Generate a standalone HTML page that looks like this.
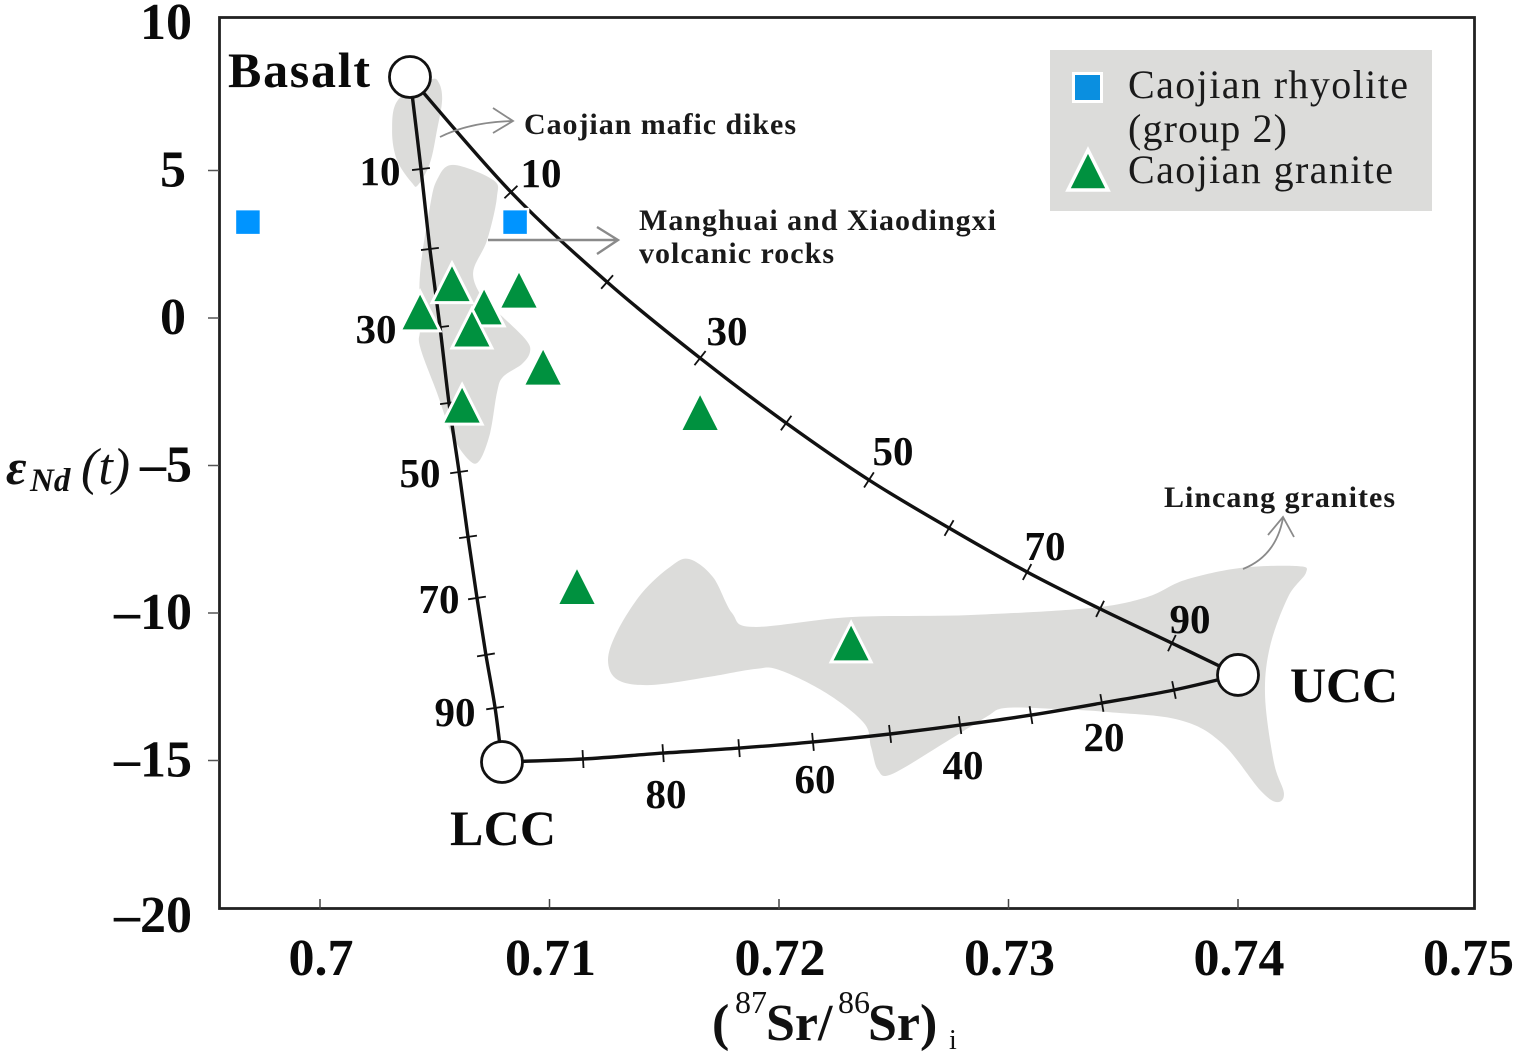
<!DOCTYPE html>
<html lang="en">
<head>
<meta charset="utf-8">
<title>Sr-Nd isotope mixing diagram</title>
<style>
html,body{margin:0;padding:0;background:#fff;}
svg{display:block;}
text{font-family:"Liberation Serif",serif;fill:#111;}
.b{font-weight:bold;}
.tick-label{font-weight:bold;font-size:52px;fill:#0a0a0a;}
.curve-label{font-weight:bold;font-size:41px;text-anchor:middle;fill:#0a0a0a;}
.end-label{font-weight:bold;font-size:50px;fill:#0a0a0a;}
.note{font-weight:bold;font-size:30px;fill:#1a1a1a;}
.legend-text{font-size:40px;fill:#1a1a1a;}
.arrow{fill:none;stroke:#8a8a8a;stroke-width:1.8;}
</style>
</head>
<body>
<svg id="chart" xmlns="http://www.w3.org/2000/svg" width="1517" height="1057" viewBox="0 0 1517 1057">
  <rect x="0" y="0" width="1517" height="1057" fill="#ffffff"/>
  <g id="regions"></g>
  <rect x="1050" y="50" width="382" height="161" fill="#dcdcda"/>
  <rect x="219.5" y="17.5" width="1255" height="891" fill="none" stroke="#222" stroke-width="2.8"/>
  <g id="axes"></g>
  <g id="curves"></g>

  <g>
    <path class="arrow" d="M440,137 Q470,122 513,121 M493,108 L513,121 L493,133"/>
    <path class="arrow" style="stroke-width:2.4" d="M488,240 L618,240 M597,227 L618,240 L597,254"/>
    <path class="arrow" d="M1243,569 Q1276,556 1283,518 M1268,535 L1283,517 L1294,537"/>
    <text class="note" x="524" y="134" textLength="272" lengthAdjust="spacing">Caojian mafic dikes</text>
    <text class="note" x="639" y="230" textLength="357" lengthAdjust="spacing">Manghuai and Xiaodingxi</text>
    <text class="note" x="639" y="263" textLength="195" lengthAdjust="spacing">volcanic rocks</text>
    <text class="note" x="1164" y="507" textLength="231" lengthAdjust="spacing">Lincang granites</text>
  </g>

  <g>
    <text class="curve-label" x="380" y="185">10</text>
    <text class="curve-label" x="376" y="343">30</text>
    <text class="curve-label" x="420" y="487">50</text>
    <text class="curve-label" x="439" y="613">70</text>
    <text class="curve-label" x="455" y="726">90</text>
  </g>
  <g>
    <text class="curve-label" x="541" y="187">10</text>
    <text class="curve-label" x="727" y="345">30</text>
    <text class="curve-label" x="893" y="465">50</text>
    <text class="curve-label" x="1045" y="560">70</text>
    <text class="curve-label" x="1190" y="633">90</text>
  </g>
  <g>
    <text class="curve-label" x="666" y="808">80</text>
    <text class="curve-label" x="815" y="793">60</text>
    <text class="curve-label" x="963" y="779">40</text>
    <text class="curve-label" x="1104" y="751">20</text>
  </g>

  <text class="end-label" x="228" y="87" textLength="142" lengthAdjust="spacing">Basalt</text>
  <text class="end-label" x="1290" y="702" textLength="108" lengthAdjust="spacing">UCC</text>
  <text class="end-label" x="450" y="845" textLength="106" lengthAdjust="spacing">LCC</text>

  <g id="points"></g>

  <g>
    <g>
      <rect x="1073.5" y="73.5" width="28" height="28" fill="#0a8fe0" stroke="#fff" stroke-width="3"/>
      <text class="legend-text" x="1128" y="98" textLength="280" lengthAdjust="spacing">Caojian rhyolite</text>
      <text class="legend-text" x="1128" y="142" textLength="159" lengthAdjust="spacing">(group 2)</text>
    </g>
    <g>
      <polygon points="1088,150 1108,190 1068,190" fill="#00913f" stroke="#fff" stroke-width="3.5"/>
      <text class="legend-text" x="1128" y="183" textLength="265" lengthAdjust="spacing">Caojian granite</text>
    </g>
  </g>

  <text x="6" y="484">
    <tspan x="6" y="484" style="font-style:italic;font-weight:bold;font-size:50px;">ε</tspan><tspan x="30" y="491" style="font-style:italic;font-weight:bold;font-size:33px;">Nd</tspan><tspan x="81" y="484" style="font-style:italic;font-size:52px;">(t)</tspan>
  </text>
  <text x="712" y="1040">
    <tspan class="b" x="712" y="1040" style="font-size:52px;">(</tspan><tspan x="735" y="1013" style="font-size:32px;">87</tspan><tspan class="b" x="766" y="1040" style="font-size:52px;">Sr/</tspan><tspan x="838" y="1013" style="font-size:32px;">86</tspan><tspan class="b" x="868" y="1040" style="font-size:52px;">Sr)</tspan><tspan x="949" y="1049" style="font-size:28px;">i</tspan>
  </text>
</svg>

<script>
// ---- axis values ----
const xTickValues = [0.70, 0.71, 0.72, 0.73, 0.74, 0.75];
const xTickLabels = ["0.7", "0.71", "0.72", "0.73", "0.74", "0.75"];
const yTickValues = [10, 5, 0, -5, -10, -15, -20];
const yTickLabels = ["10", "5", "0", "\u20135", "\u201310", "\u201315", "\u201320"];

// ---- samples ----
const graniteSr = [0.70575, 0.70436, 0.70715, 0.70662, 0.70867, 0.70972, 0.70619, 0.71656, 0.7112, 0.72314];
const graniteNd = [1.15, 0.19, 0.36, -0.39, 0.93, -1.68, -2.97, -3.22, -9.12, -11.03];
const rhyoliteSr = [0.69686, 0.7085];
const rhyoliteNd = [3.25, 3.25];

// ---- end members ----
const endMemberNames = ["basalt", "ucc", "lcc"];
const endMemberSr = [0.70392, 0.74, 0.70793];
const endMemberNd = [8.17, -12.10, -15.05];

// ---- mixing curves (first and last are the end members, the rest carry tick marks) ----
const basaltUccSr = [0.70392, 0.70832, 0.71251, 0.71656, 0.72031, 0.72392, 0.72741, 0.73081, 0.73399, 0.73712, 0.74];
const basaltUccNd = [8.17, 4.27, 1.22, -1.36, -3.56, -5.49, -7.12, -8.61, -9.86, -11.02, -12.10];
const basaltLccSr = [0.70392, 0.7044, 0.70479, 0.70523, 0.70562, 0.70606, 0.70645, 0.70684, 0.70723, 0.70763, 0.70793];
const basaltLccNd = [8.17, 5.05, 2.34, -0.31, -2.88, -5.22, -7.42, -9.49, -11.42, -13.22, -15.05];
const lccUccSr = [0.70793, 0.71146, 0.71495, 0.71826, 0.72148, 0.72484, 0.72789, 0.73098, 0.73407, 0.73721, 0.74];
const lccUccNd = [-15.05, -14.95, -14.75, -14.58, -14.37, -14.10, -13.80, -13.46, -13.05, -12.61, -12.10];

// ---- reference fields ----
const dikesFieldSr = [0.7034, 0.70314, 0.70335, 0.70401, 0.70427, 0.70479, 0.7051, 0.70532, 0.70518, 0.70479];
const dikesFieldNd = [7.39, 6.37, 5.36, 4.58, 4.51, 5.25, 6.37, 7.39, 7.97, 8.07];
const volcanicFieldSr = [0.70579, 0.70754, 0.70771, 0.70728, 0.70667, 0.70715, 0.70797, 0.70898, 0.70915, 0.7088, 0.70797, 0.70771, 0.70741, 0.70697, 0.70654, 0.70579, 0.7051, 0.70436, 0.70436, 0.70436, 0.70479, 0.7051];
const volcanicFieldNd = [5.19, 4.68, 4.10, 2.64, 1.53, 0.61, 0.03, -0.75, -1.15, -1.56, -2.00, -2.54, -3.90, -4.81, -4.85, -4.03, -2.54, -0.98, -0.31, 1.53, 3.76, 4.68];
const lincangFieldSr = [0.71608, 0.71712, 0.71795, 0.71887, 0.72309, 0.72824, 0.73355, 0.73603, 0.73769, 0.74013, 0.74261, 0.74296, 0.74218, 0.74139, 0.74118, 0.74157, 0.742, 0.7417, 0.74096, 0.7393, 0.73747, 0.73438, 0.73203, 0.72985, 0.72902, 0.72719, 0.72492, 0.72431, 0.72401, 0.7237, 0.72205, 0.72, 0.71895, 0.71691, 0.71442, 0.71298, 0.71255, 0.71298, 0.71403, 0.71525];
const lincangFieldNd = [-8.17, -8.78, -10.00, -10.47, -10.14, -10.07, -9.83, -9.46, -8.88, -8.47, -8.41, -8.64, -9.46, -11.15, -12.85, -15.08, -16.10, -16.41, -16.00, -14.41, -13.63, -13.36, -13.25, -13.22, -13.53, -14.41, -15.46, -15.32, -14.54, -13.73, -12.71, -11.93, -11.90, -12.17, -12.44, -12.27, -11.59, -10.58, -9.32, -8.44];

// ---- axis functions ----
function sx(v) { return 320 + (v - 0.70) * 22950; }
function sy(v) { return 318 - v * 29.5; }

const NS = 'http://www.w3.org/2000/svg';
function make(tag, attrs, parent) {
  const node = document.createElementNS(NS, tag);
  for (const k in attrs) node.setAttribute(k, attrs[k]);
  parent.appendChild(node);
  return node;
}
function toPixels(xs, ys) {
  return xs.map((v, i) => [sx(v), sy(ys[i])]);
}
function smoothPath(p, closed) {
  const n = p.length;
  const at = i => closed ? p[(i + n) % n] : p[Math.max(0, Math.min(n - 1, i))];
  let d = 'M' + p[0][0].toFixed(1) + ',' + p[0][1].toFixed(1);
  const last = closed ? n : n - 1;
  for (let i = 0; i < last; i++) {
    const a = at(i - 1), b = at(i), c = at(i + 1), e = at(i + 2);
    const c1x = b[0] + (c[0] - a[0]) / 6, c1y = b[1] + (c[1] - a[1]) / 6;
    const c2x = c[0] - (e[0] - b[0]) / 6, c2y = c[1] - (e[1] - b[1]) / 6;
    d += 'C' + c1x.toFixed(1) + ',' + c1y.toFixed(1) + ' ' + c2x.toFixed(1) + ',' + c2y.toFixed(1) + ' ' + c[0].toFixed(1) + ',' + c[1].toFixed(1);
  }
  return d + (closed ? 'Z' : '');
}

// ---- reference fields ----
const regionsG = document.getElementById('regions');
function drawField(name, xs, ys) {
  const el = make('path', { d: smoothPath(toPixels(xs, ys), true), fill: '#dcdcda' }, regionsG);
  
  
}
drawField('mafic-dikes-field', dikesFieldSr, dikesFieldNd);
drawField('volcanic-rocks-field', volcanicFieldSr, volcanicFieldNd);
drawField('lincang-granites-field', lincangFieldSr, lincangFieldNd);

// ---- axes ----
const axesG = document.getElementById('axes');
xTickValues.forEach((v, i) => {
  if (v < 0.75) {
    const t = make('line', { x1: sx(v), x2: sx(v), y1: 899, y2: 909, stroke: '#444', 'stroke-width': 1.5 }, axesG);
    
    
  }
  const lab = make('text', { x: sx(v) + 1, y: 975, class: 'tick-label', 'text-anchor': 'middle' }, axesG);
  lab.textContent = xTickLabels[i];
  
  
});
yTickValues.forEach((v, i) => {
  if (v > -20 && v < 10) {
    const t = make('line', { x1: 208, x2: 219, y1: sy(v), y2: sy(v), stroke: '#555', 'stroke-width': 1.5 }, axesG);
    
    
  }
  const single = yTickLabels[i].length === 1;
  const extra = i === yTickValues.length - 1 ? 8 : 0;
  const lab = make('text', { x: single ? 186 : 192, y: sy(v) + 16 + extra, class: 'tick-label', 'text-anchor': 'end' }, axesG);
  lab.textContent = yTickLabels[i];
  
  
});

// ---- mixing curves ----
const curvesG = document.getElementById('curves');
function drawCurve(name, xs, ys) {
  const p = toPixels(xs, ys);
  const line = make('path', { d: smoothPath(p, false), fill: 'none', stroke: '#111', 'stroke-width': 3.4 }, curvesG);
  
  
  for (let i = 1; i < p.length - 1; i++) {
    const dx = p[i + 1][0] - p[i - 1][0], dy = p[i + 1][1] - p[i - 1][1];
    const len = Math.hypot(dx, dy) || 1;
    const nx = -dy / len * 9, ny = dx / len * 9;
    const tick = make('line', { x1: p[i][0] - nx, y1: p[i][1] - ny, x2: p[i][0] + nx, y2: p[i][1] + ny, stroke: '#111', 'stroke-width': 1.8 }, curvesG);
    
    
  }
}
drawCurve('basalt-ucc-curve', basaltUccSr, basaltUccNd);
drawCurve('basalt-lcc-curve', basaltLccSr, basaltLccNd);
drawCurve('lcc-ucc-curve', lccUccSr, lccUccNd);

endMemberNames.forEach((n, i) => {
  const c = make('circle', { cx: sx(endMemberSr[i]), cy: sy(endMemberNd[i]), r: 20.5, fill: '#fff', stroke: '#111', 'stroke-width': 2.8 }, curvesG);
  
  
});

// ---- samples ----
const pointsG = document.getElementById('points');
rhyoliteSr.forEach((v, i) => {
  const s = make('rect', { x: sx(v) - 13, y: sy(rhyoliteNd[i]) - 13, width: 26, height: 26, fill: '#0094ff', stroke: '#fff', 'stroke-width': 2.5 }, pointsG);
  
  
});
graniteSr.forEach((v, i) => {
  const cx = sx(v), cy = sy(graniteNd[i]);
  const pts = [[cx, cy - 21], [cx + 20, cy + 18.5], [cx - 20, cy + 18.5]].map(q => q[0].toFixed(1) + ',' + q[1].toFixed(1)).join(' ');
  const t = make('polygon', { points: pts, fill: '#00913f', stroke: '#fff', 'stroke-width': 3 }, pointsG);
  
  
});
</script>
</body>
</html>
